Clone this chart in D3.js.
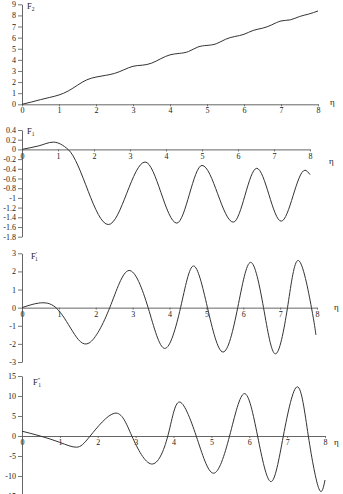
<!DOCTYPE html>
<html>
<head>
<meta charset="utf-8">
<script src="https://cdn.jsdelivr.net/npm/d3@7"></script>
<style>
  html, body { margin: 0; padding: 0; background: #fff; }
  svg { display: block; }
  text { font-family: "Liberation Serif", "DejaVu Serif", serif; fill: #222; }
</style>
</head>
<body>
<div id="showBox"></div>
<script>
// values
const etaTicks = [0, 1, 2, 3, 4, 5, 6, 7, 8];

const f2Eta = [0, 0.25, 0.5, 0.75, 1, 1.25, 1.5, 1.75, 2, 2.25, 2.5, 2.75, 3, 3.25, 3.5, 3.75,
    4, 4.25, 4.5, 4.75, 5, 5.25, 5.5, 5.75, 6, 6.25, 6.5, 6.75, 7, 7.25, 7.5, 7.75, 8];
const f2Val = [0, 0.2, 0.42, 0.62, 0.84, 1.2, 1.72, 2.2, 2.45, 2.6, 2.78, 3.1, 3.42, 3.52, 3.7, 4.1,
    4.45, 4.58, 4.75, 5.15, 5.3, 5.45, 5.85, 6.1, 6.3, 6.65, 6.85, 7.15, 7.5, 7.6, 7.9, 8.12, 8.4];
const f2Ticks = [0, 1, 2, 3, 4, 5, 6, 7, 8, 9];

const f1Eta = [0, 0.45, 0.87, 1.28, 2.4, 3.42, 4.3, 5.0, 5.87, 6.52, 7.2, 7.86, 8];
const f1Val = [0, 0.07, 0.15, 0, -1.55, -0.26, -1.52, -0.33, -1.5, -0.39, -1.48, -0.43, -0.52];
const f1Ticks = [0.4, 0.2, 0, -0.2, -0.4, -0.6, -0.8, -1, -1.2, -1.4, -1.6, -1.8];

const d1Eta = [0, 0.45, 0.92, 1.37, 1.82, 2.38, 2.9, 3.42, 3.87, 4.3, 4.65, 5.03, 5.45, 5.85, 6.2, 6.55, 6.87, 7.2, 7.5, 7.85, 7.97];
const d1Val = [0, 0.25, 0, -1.3, -1.95, 0, 2.05, 0, -2.25, 0, 2.3, 0, -2.45, 0, 2.5, 0, -2.55, 0, 2.6, 0, -1.5];
const d1Ticks = [3, 2, 1, 0, -1, -2, -3];

const d2Eta = [0, 0.48, 1.0, 1.44, 1.8, 2.45, 2.9, 3.42, 3.85, 4.15, 4.6, 5.05, 5.48, 5.87, 6.22, 6.57, 6.9, 7.27, 7.56, 7.84, 8.0];
const d2Val = [1.2, 0, -1.6, -2.8, 0, 5.7, 0, -7.0, 0, 8.5, 0, -9.3, 0, 10.6, 0, -11.4, 0, 12.3, 0, -13.2, -11];
const d2Ticks = [15, 10, 5, 0, -5, -10, -15];

const W = 343, H = 494;
const svg = d3.select("#showBox").append("svg").attr("width", W).attr("height", H);

function fmt(v) {
    return String(Math.round(v * 10) / 10);
}

function panel(cfg) {
    const x = d3.scaleLinear().domain([0, 8]).range([22, cfg.xEnd]);
    const y = d3.scaleLinear().domain(cfg.yDomain).range(cfg.yRange);
    const g = svg.append("g");

    // y axis
    const ya = g.append("g")
        .attr("transform", `translate(${x(0)},0)`)
        .call(d3.axisLeft(y).tickValues(cfg.yTicks).tickFormat(fmt).tickSize(4).tickSizeOuter(0).tickPadding(2));
    // x axis on the zero line
    const xa = g.append("g")
        .attr("transform", `translate(0,${y(0)})`)
        .call(d3.axisBottom(x).tickValues(etaTicks).tickFormat(d3.format("d")).tickSize(2).tickSizeOuter(0).tickPadding(1.5));

    [ya, xa].forEach(a => {
        a.select(".domain").attr("stroke", "#555").attr("stroke-width", 0.9);
        a.selectAll(".tick line").attr("stroke", "#555").attr("stroke-width", 0.8);
        a.selectAll("text").attr("font-size", 8).attr("font-family", "Liberation Serif, serif").attr("fill", "#333");
    });

    const line = d3.line()
        .x((d, i) => x(cfg.eta[i]))
        .y(d => y(d))
        .curve(cfg.curve || d3.curveNatural);

    g.append("path")
        .attr("d", line(cfg.val))
        .attr("fill", "none")
        .attr("stroke", "#333")
        .attr("stroke-width", 1);

    // function label
    const t = g.append("text")
        .attr("x", cfg.labelPos[0]).attr("y", cfg.labelPos[1])
        .attr("font-size", 8.5);
    t.append("tspan").text("F");
    if (cfg.prime) t.append("tspan").attr("font-size", 6).attr("dy", -3).text(cfg.prime);
    t.append("tspan").attr("font-size", 5.5).attr("dy", cfg.prime ? 5 : 2)
        .attr("dx", cfg.prime ? -2 : 0).text(cfg.sub);

    g.append("text")
        .attr("x", cfg.etaPos[0]).attr("y", cfg.etaPos[1])
        .attr("font-size", 9)
        .text("\u03b7");
}

panel({eta: f2Eta, val: f2Val, yDomain: [0, 9], yRange: [104.3, 4.3], yTicks: f2Ticks,
    xEnd: 318, labelPos: [27, 9], sub: "2", etaPos: [330, 105]});
panel({eta: f1Eta, val: f1Val, yDomain: [-1.8, 0.4], yRange: [236.7, 130], yTicks: f1Ticks,
    xEnd: 310, labelPos: [27, 134], sub: "1", etaPos: [329, 164], curve: d3.curveMonotoneX});
panel({eta: d1Eta, val: d1Val, yDomain: [-3, 3], yRange: [362, 253.3], yTicks: d1Ticks,
    xEnd: 317, labelPos: [31, 259], sub: "1", prime: "\u2032", etaPos: [334, 310]});
panel({eta: d2Eta, val: d2Val, yDomain: [-15, 15], yRange: [496, 376], yTicks: d2Ticks,
    xEnd: 325, labelPos: [33, 385], sub: "1", prime: "\u2033", etaPos: [334, 445]});
</script>
</body>
</html>
